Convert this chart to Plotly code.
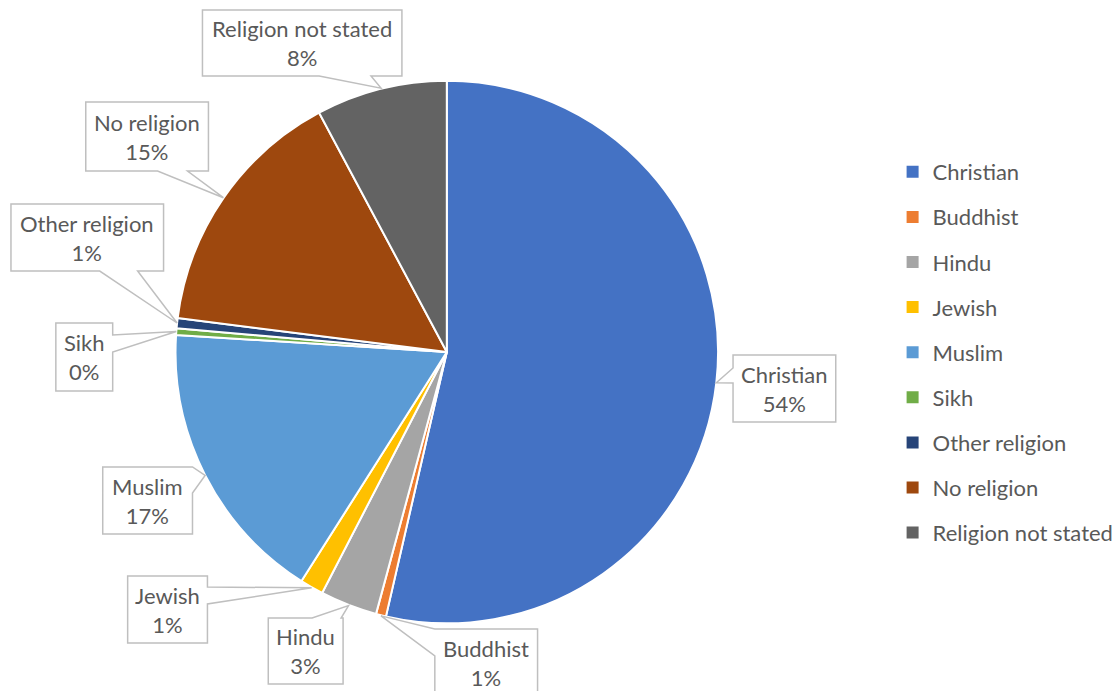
import math
import plotly.graph_objects as go

W, H = 1119, 691

categories = ["Christian", "Buddhist", "Hindu", "Jewish", "Muslim", "Sikh",
              "Other religion", "No religion", "Religion not stated"]
values = [53.6, 0.6, 3.4, 1.4, 17.0, 0.4, 0.6, 15.2, 7.8]
colors = ["#4472C4", "#ED7D31", "#A5A5A5", "#FFC000", "#5B9BD5", "#70AD47",
          "#264478", "#9E480E", "#636363"]

# callout boxes (pixel layout): x0, y0, x1, y1, tail side, tail base start, tail base end
callouts = {
    "Christian": (735, 355, 838, 422, "left", 368, 383),
    "Buddhist": (436, 629, 539, 697, "left", 629, 656),
    "Hindu": (269, 618, 344, 684, "top", 313, 342),
    "Jewish": (128, 576, 208, 643, "right", 587, 604),
    "Muslim": (103, 467, 193, 534, "right", 467, 493),
    "Sikh": (56, 323, 113, 391, "right", 335, 352),
    "Other religion": (11, 204, 164, 271, "bottom", 100, 138),
    "No religion": (86, 102, 209, 171, "bottom", 158, 188),
    "Religion not stated": (203, 10, 403, 76, "bottom", 320, 372),
}

# pie placement in pixels
CX, CY, R = 448, 352, 272

FONT = "Lato"
FS = 22
TXT = "#595959"
EDGE = "#BFBFBF"

def px(x):
    return x / W

def py(y):
    return 1 - y / H

fig = go.Figure()
fig.add_trace(go.Pie(
    labels=categories, values=values, sort=False, direction="clockwise",
    rotation=0, textinfo="none", hoverinfo="label+percent",
    marker=dict(colors=colors, line=dict(color="white", width=2)),
    domain=dict(x=[px(CX - R), px(CX + R)], y=[py(CY + R), py(CY - R)]),
    showlegend=False,
))

# legend entries
for c, col in zip(categories, colors):
    fig.add_trace(go.Scatter(
        x=[None], y=[None], mode="markers", name=c, legendgroup=c,
        marker=dict(symbol="square", size=8, color=col),
    ))

total = sum(values)
shapes = []
annotations = []
cum = 0.0
for c, v in zip(categories, values):
    mid = (cum + v / 2) / total * 2 * math.pi
    cum += v
    tx = CX + R * math.sin(mid)
    ty = CY - R * math.cos(mid)
    x0, y0, x1, y1, side, b0, b1 = callouts[c]
    pts = [(x0, y0)]
    if side == "top":
        pts += [(b0, y0), (tx, ty), (b1, y0)]
    pts += [(x1, y0)]
    if side == "right":
        pts += [(x1, b0), (tx, ty), (x1, b1)]
    pts += [(x1, y1)]
    if side == "bottom":
        pts += [(b1, y1), (tx, ty), (b0, y1)]
    pts += [(x0, y1)]
    if side == "left":
        pts += [(x0, b1), (tx, ty), (x0, b0)]
    path = "M " + " L ".join(f"{px(a):.5f},{py(b):.5f}" for a, b in pts) + " Z"
    shapes.append(dict(type="path", path=path, xref="paper", yref="paper",
                       fillcolor="white", line=dict(color=EDGE, width=1.5)))
    pct = int(v / total * 100 + 0.5)
    annotations.append(dict(
        x=px((x0 + x1) / 2), y=py((y0 + y1) / 2), xref="paper", yref="paper",
        text=f"{c}<br>{pct}%", showarrow=False, xanchor="center", yanchor="middle",
        font=dict(family=FONT, size=FS, color=TXT), align="center",
    ))

fig.update_layout(
    width=W, height=H,
    margin=dict(l=0, r=0, t=0, b=0),
    paper_bgcolor="white", plot_bgcolor="white",
    xaxis=dict(visible=False), yaxis=dict(visible=False),
    shapes=shapes, annotations=annotations,
    showlegend=True,
    legend=dict(x=px(895), y=py(151), xanchor="left", yanchor="top",
                font=dict(family=FONT, size=FS, color=TXT),
                tracegroupgap=13.5, traceorder="grouped", itemsizing="constant",
                bgcolor="rgba(0,0,0,0)"),
)

fig.write_html("out.html", config={"displayModeBar": False},
               post_script="document.body.style.margin='0';")
